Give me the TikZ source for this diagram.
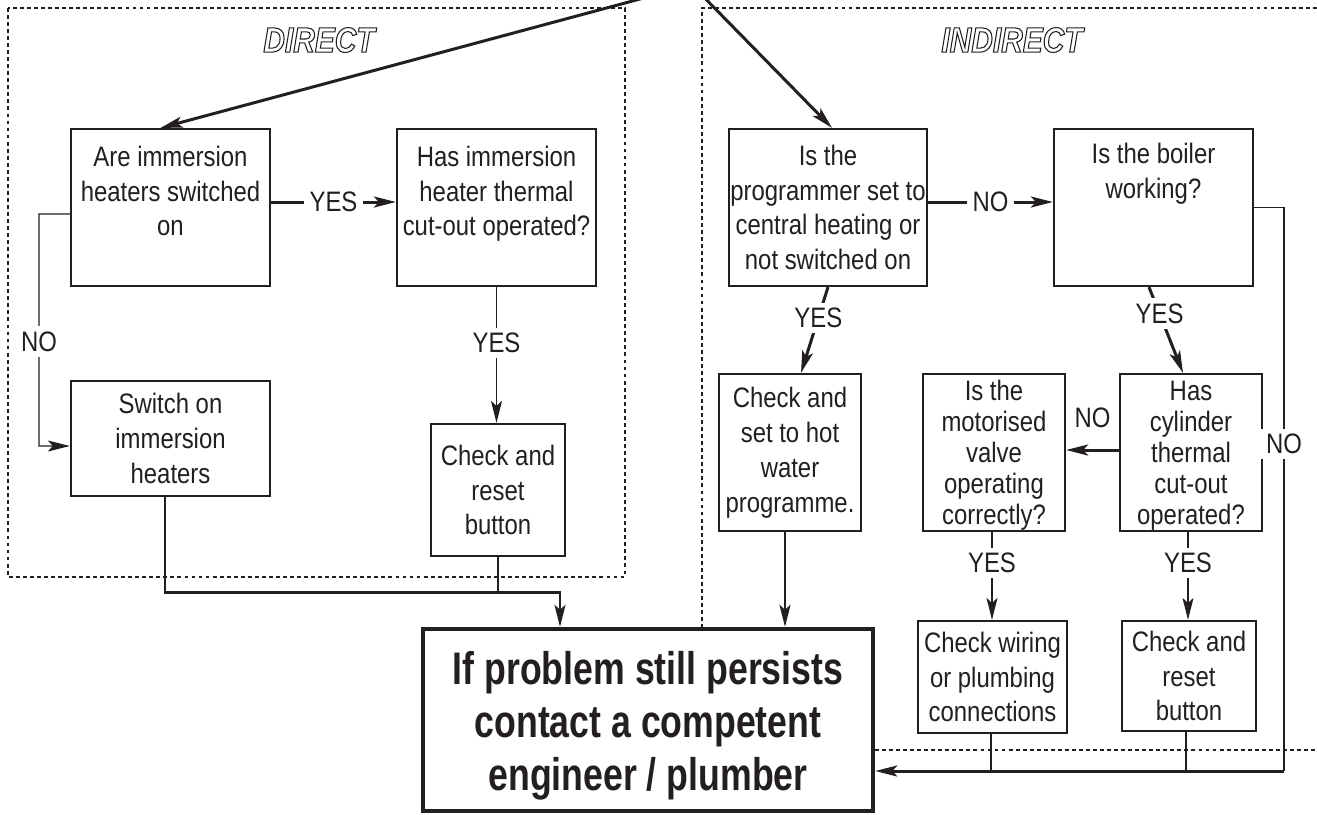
\documentclass[tikz,border=0pt]{standalone}
\usepackage{fontspec}
\setmainfont[FakeStretch=0.85]{Liberation Sans}
\newfontfamily\bigfont[FakeStretch=0.78]{Liberation Sans}
\usetikzlibrary{arrows.meta,calc}
\definecolor{ink}{HTML}{231F20}
\newcommand\outl[1]{\special{pdf:literal direct 0.3 w 1 Tr}#1\special{pdf:literal direct 0 Tr}}
\newcommand\lowered[2]{\raisebox{#1}[\height][\depth]{\begin{tabular}{@{}c@{}}#2\end{tabular}}}
\begin{document}
\begin{tikzpicture}[x=0.01cm,y=-0.01cm,
  every node/.style={font=\fontsize{8}{9.9}\selectfont, text=ink},
  box/.style={draw=ink, line width=0.6pt, align=center, inner sep=0pt, fill=white},
  tight/.style={font=\fontsize{8}{8.8}\selectfont},
  bigbox/.style={draw=ink, line width=1.2pt, align=center, inner sep=0pt, fill=white,
    font=\bigfont\bfseries\fontsize{13}{15}\selectfont},
  thk/.style={draw=ink, line width=0.85pt},
  thn/.style={draw=ink, line width=0.35pt},
  arr/.style={-{Stealth[length=0.22cm,width=0.11cm,inset=0.05cm]}},
  lbl/.style={fill=white, inner sep=1.5pt},
  frame/.style={draw=ink, line width=0.35pt, dash pattern=on 1.1pt off 0.9pt},
  ttl/.style={font=\bfseries\itshape\fontsize{10}{12}\selectfont}
]
\useasboundingbox (0,0) rectangle (1317,814);
% dashed frames
\draw[frame] (8,8) rectangle (625,577);
\draw[frame] (702,628) -- (702,8) -- (1330,8);
\draw[frame] (875,750) -- (1330,750);
% titles
\node[ttl] (tD) at (319,40) {\outl{DIRECT}};
\node[ttl] (tI) at (1012,40) {\outl{INDIRECT}};
% boxes
\node[box, minimum width=1.99cm, minimum height=1.57cm] (b1) at (170.5,207.5)
  {Are immersion\\heaters switched\\on\\[-0.12cm] \strut};
\node[box, minimum width=1.99cm, minimum height=1.57cm] (b2) at (496.5,207.5)
  {Has immersion\\heater thermal\\cut-out operated?\\[-0.12cm] \strut};
\node[box, minimum width=1.99cm, minimum height=1.15cm] (sw) at (170.5,438.5)
  {Switch on\\immersion\\heaters};
\node[box, minimum width=1.34cm, minimum height=1.32cm] (cr1) at (498,490)
  {Check and\\reset\\button};
\node[box, minimum width=1.98cm, minimum height=1.57cm] (P) at (828,207.5)
  {Is the\\programmer set to\\central heating or\\not switched on};
\node[box, minimum width=1.99cm, minimum height=1.57cm] (B) at (1153.5,207.5)
  {Is the boiler\\working?\\ \strut\\[-0.06cm] \strut};
\node[box, minimum width=1.42cm, minimum height=1.57cm] (CS) at (790,452.5)
  {Check and\\set to hot\\water\\programme.};
\node[box, tight, minimum width=1.42cm, minimum height=1.57cm] (MV) at (994,452.5)
  {\lowered{-0.04cm}{Is the\\motorised\\valve\\operating\\correctly?}};
\node[box, tight, minimum width=1.42cm, minimum height=1.57cm] (HC) at (1191,452.5)
  {\lowered{-0.04cm}{Has\\cylinder\\thermal\\cut-out\\operated?}};
\node[box, minimum width=1.49cm, minimum height=1.12cm] (CW) at (992.5,677)
  {Check wiring\\or plumbing\\connections};
\node[box, minimum width=1.34cm, minimum height=1.10cm] (CR2) at (1189,676)
  {Check and\\reset\\button};
\node[bigbox, minimum width=4.5cm, minimum height=1.82cm] (BIG) at (648,720)
  {\lowered{-0.07cm}{If problem still persists\\contact a competent\\engineer / plumber}};
% incoming arrows from above
\coordinate (src) at (692,-15);
\draw[thk,arr] (src) -- ([xshift=-0.1cm]b1.north);
\draw[thk,arr] (src) -- ([xshift=0.04cm]P.north);
% DIRECT connectors
\draw[thk,arr] ([yshift=0.055cm]b1.east) -- node[lbl]{YES} ([yshift=0.055cm]b2.west);
\coordinate (n1) at (39,214);
\coordinate (n2) at (39,446);
\draw[thn,arr] ([yshift=-0.065cm]b1.west) -- (n1) -- node[lbl,pos=0.55]{NO} (n2) -- ([yshift=-0.075cm]sw.west);
\draw[thn,arr] (b2.south) -- node[lbl,pos=0.41]{YES} (b2.south |- cr1.north);
\coordinate (jL) at (560,592);
\draw[thk,arr] ([xshift=-0.055cm]sw.south) |- (jL) -- (jL |- BIG.north);
\draw[thk] (cr1.south) -- (cr1.south |- jL);
% INDIRECT connectors
\draw[thk,arr] ([yshift=0.055cm]P.east) -- node[lbl]{NO} ([yshift=0.055cm]B.west);
\draw[thk,arr] (P.south) -- node[lbl,pos=0.36]{YES} ([xshift=0.11cm]CS.north);
\draw[thk,arr] ([xshift=-0.05cm]CS.south) -- ([xshift=-0.05cm]CS.south |- BIG.north);
\draw[thk,arr] ([xshift=-0.045cm]B.south) -- node[lbl,pos=0.31]{YES} ([xshift=-0.08cm]HC.north);
\draw[thk,arr] ([yshift=0.025cm]HC.west) -- node[midway,yshift=0.32cm]{NO} ([yshift=0.025cm]MV.east);
\draw[thn,arr] ([xshift=-0.02cm]MV.south) -- node[lbl,pos=0.35]{YES} ([xshift=-0.02cm]MV.south |- CW.north);
\draw[thn,arr] ([xshift=-0.03cm]HC.south) -- node[lbl,pos=0.35]{YES} ([xshift=-0.03cm]HC.south |- CR2.north);
\coordinate (rc) at (1284,771);
\draw[thn] (B.east) -| node[lbl,pos=0.71]{NO} (rc);
\draw[thk,arr] (rc) -- (rc -| BIG.east);
\draw[thk] ([xshift=-0.015cm]CW.south) -- ([xshift=-0.015cm]CW.south |- rc);
\draw[thk] ([xshift=-0.03cm]CR2.south) -- ([xshift=-0.03cm]CR2.south |- rc);
\end{tikzpicture}
\end{document}
